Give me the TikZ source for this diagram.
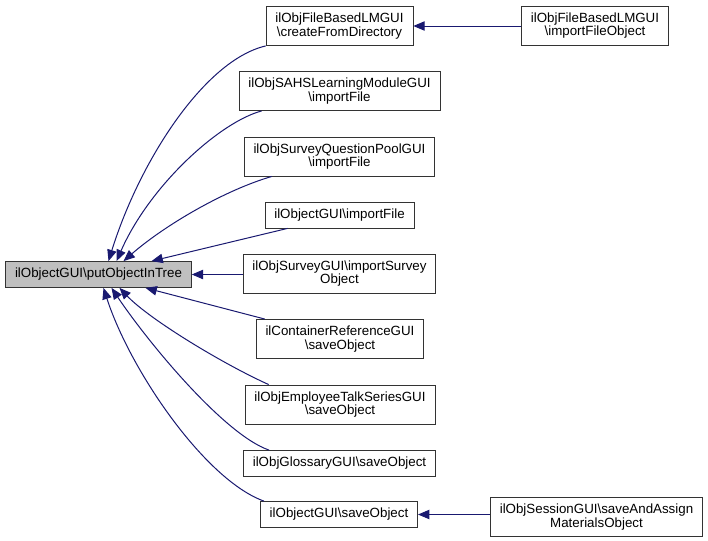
\documentclass[tikz,border=0pt]{standalone}
\usepackage{fontspec}
\setmainfont{Liberation Sans}
\usetikzlibrary{arrows.meta,calc}
\definecolor{edgeblue}{HTML}{191970}
\tikzset{
  fn/.style={draw=black!80, rectangle, align=center, inner xsep=7pt, inner ysep=5pt,
    minimum height=19.5pt, font=\fontsize{10}{10}\selectfont, line width=0.6pt},
  calls/.style={draw=edgeblue, line width=0.75pt, -{Triangle[length=8.5pt,width=7pt]}}
}

\begin{document}
\begin{tikzpicture}[x=0.75pt,y=-0.75pt]
  \useasboundingbox (0,0) rectangle (708,540);
  \node[fn, fill=black!25] (tree) at (98.5,274.5) {ilObjectGUI\textbackslash putObjectInTree};
  \node[fn] (createdir) at (339.5,26) {ilObjFileBasedLMGUI\\\textbackslash createFromDirectory};
  \node[fn] (sahs) at (339.5,91) {ilObjSAHSLearningModuleGUI\\\textbackslash importFile};
  \node[fn] (qpool) at (339.5,156.5) {ilObjSurveyQuestionPoolGUI\\\textbackslash importFile};
  \node[fn] (importfile) at (339.5,215) {ilObjectGUI\textbackslash importFile};
  \node[fn] (importsurvey) at (339.5,273.5) {ilObjSurveyGUI\textbackslash importSurvey\\Object};
  \node[fn] (containerref) at (340,339) {ilContainerReferenceGUI\\\textbackslash saveObject};
  \node[fn] (talkseries) at (340,404.5) {ilObjEmployeeTalkSeriesGUI\\\textbackslash saveObject};
  \node[fn] (glossary) at (339.5,463.5) {ilObjGlossaryGUI\textbackslash saveObject};
  \node[fn] (saveobject) at (339,514.5) {ilObjectGUI\textbackslash saveObject};
  \node[fn] (fileobject) at (595,25.5) {ilObjFileBasedLMGUI\\\textbackslash importFileObject};
  \node[fn] (assignmat) at (596.5,517) {ilObjSessionGUI\textbackslash saveAndAssign\\MaterialsObject};

  % callers above
  \draw[calls] (createdir.south west) .. controls (205,60) and (140,160) .. ($(tree.north)+(10,0)$);
  \draw[calls] ($(sahs.south west)+(23,0)$) .. controls (220,122) and (150,185) .. ($(tree.north)+(18,0)$);
  \draw[calls] ($(qpool.south west)+(28,0)$) .. controls (225,190) and (165,225) .. ($(tree.north)+(25,0)$);
  \draw[calls] ($(importfile.south west)+(23,0)$) -- ($(tree.north)+(53,0)$);
  \draw[calls] (importsurvey.west |- tree.east) -- (tree.east);
  % callers below
  \draw[calls] ($(containerref.north west)+(9,0)$) -- ($(tree.south)+(47,0)$);
  \draw[calls] ($(talkseries.north west)+(24,0)$) .. controls (225,365) and (150,320) .. ($(tree.south)+(21,0)$);
  \draw[calls] ($(glossary.north west)+(26,0)$) .. controls (225,435) and (150,345) .. ($(tree.south)+(13,0)$);
  \draw[calls] ($(saveobject.north west)+(4,0)$) .. controls (205,480) and (130,370) .. ($(tree.south)+(5,0)$);
  % second level
  \draw[calls] (fileobject.west |- createdir.east) -- (createdir.east);
  \draw[calls] (assignmat.west |- saveobject.east) -- (saveobject.east);
\end{tikzpicture}
\end{document}
